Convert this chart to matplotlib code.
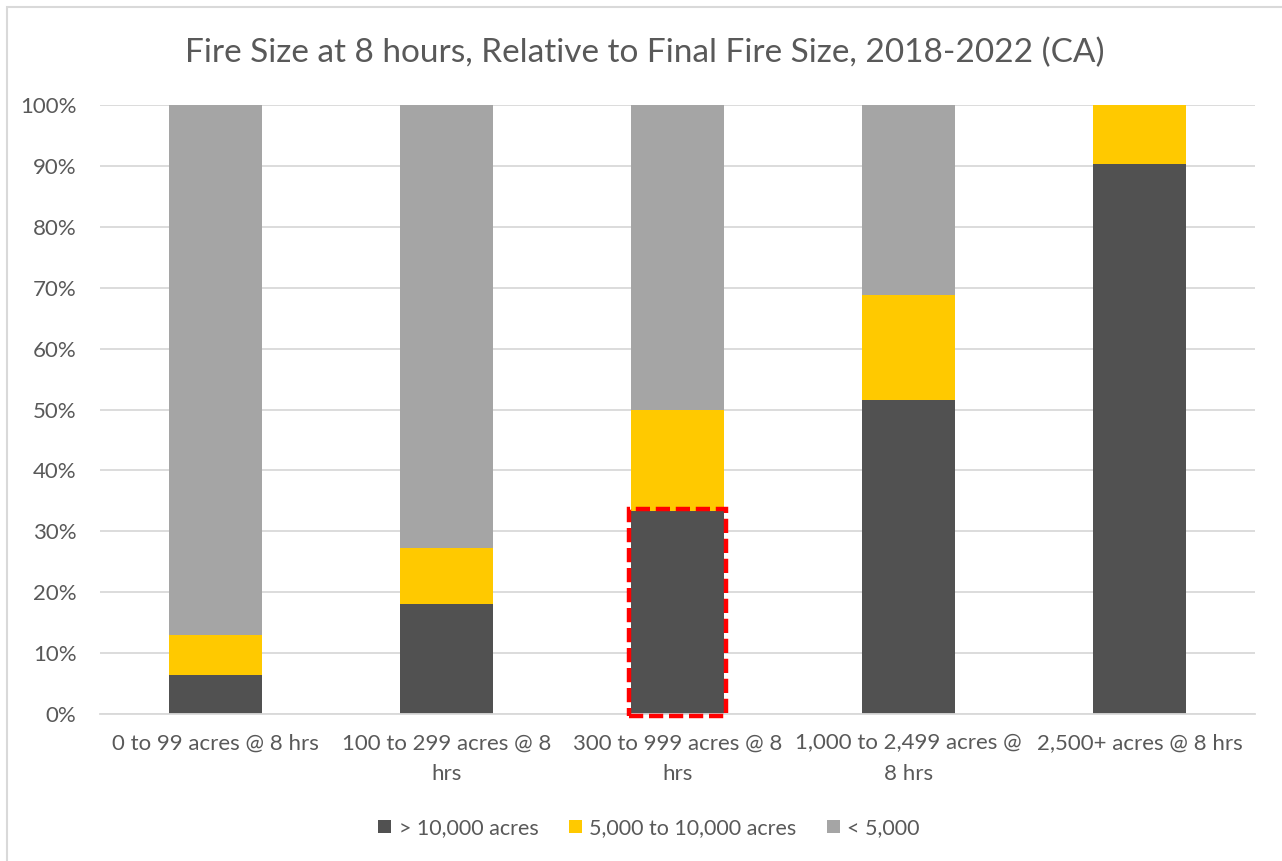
import matplotlib.pyplot as plt
from matplotlib.patches import Rectangle

plt.rcParams['font.family'] = ['Lato', 'DejaVu Sans']

# data (percent of fires in each 8-hour size class)
categories = ['0 to 99 acres @ 8 hrs', '100 to 299 acres @ 8\nhrs', '300 to 999 acres @ 8\nhrs',
              '1,000 to 2,499 acres @\n8 hrs', '2,500+ acres @ 8 hrs']
over_10k = [6.4, 18.1, 33.3, 51.6, 90.3]
mid_5k_10k = [6.6, 9.2, 16.7, 17.2, 9.7]
under_5k = [87.0, 72.7, 50.0, 31.2, 0.0]
series_names = ['> 10,000 acres', '5,000 to 10,000 acres', '< 5,000']

text_col = '#595959'
colors = ['#515151', '#ffc900', '#a5a5a5']

fig = plt.figure(figsize=(12.82, 8.61), dpi=100)
ax = fig.add_axes([100/1282, 1 - 714/861, 1155/1282, 609/861])

x = range(len(categories))
bottom = [0] * len(categories)
for vals, name, col in zip([over_10k, mid_5k_10k, under_5k], series_names, colors):
    ax.bar(x, vals, width=0.4, bottom=bottom, color=col, label=name, zorder=2)
    bottom = [b + v for b, v in zip(bottom, vals)]

# red dashed highlight around the middle dark bar
box = Rectangle((2 - 0.21, -0.3), 0.42, over_10k[2] + 0.6, fill=False, edgecolor='#ff0000',
                linewidth=3.2, linestyle=(0, (3.2, 1.3)), zorder=3, clip_on=False)
ax.add_patch(box)

ax.set_xlim(-0.5, len(categories) - 0.5)
ax.set_ylim(0, 100)
ax.set_yticks(range(0, 101, 10))
ax.set_yticklabels([f'{v}%' for v in range(0, 101, 10)])
ax.set_xticks(list(x))
ax.set_xticklabels(categories, linespacing=1.65)
ax.grid(axis='y', color='#d9d9d9', linewidth=1.3, zorder=0)
for s in ['top', 'right', 'left']:
    ax.spines[s].set_visible(False)
ax.spines['bottom'].set_color('#d9d9d9')
ax.spines['bottom'].set_linewidth(1.3)
ax.tick_params(length=0, labelsize=16, labelcolor=text_col)
ax.tick_params(axis='x', pad=14)
ax.tick_params(axis='y', pad=17)

fig.text(645/1282, 1 - 53/861, 'Fire Size at 8 hours, Relative to Final Fire Size, 2018-2022 (CA)',
         ha='center', va='center', fontsize=24, color=text_col)

leg = fig.legend(loc='center', bbox_to_anchor=(649/1282, 1 - 828/861), ncol=3, frameon=False,
                 fontsize=15.5, handlelength=0.6, handleheight=0.6, columnspacing=1.4, handletextpad=0.35)
for t in leg.get_texts():
    t.set_color(text_col)

# chart frame
fig.patches.append(Rectangle((7/1282, -0.01), 1.02, 1 - 7/861 + 0.01, transform=fig.transFigure,
                             fill=False, edgecolor='#d9d9d9', linewidth=1.5))

plt.savefig('out.png', dpi=100)
